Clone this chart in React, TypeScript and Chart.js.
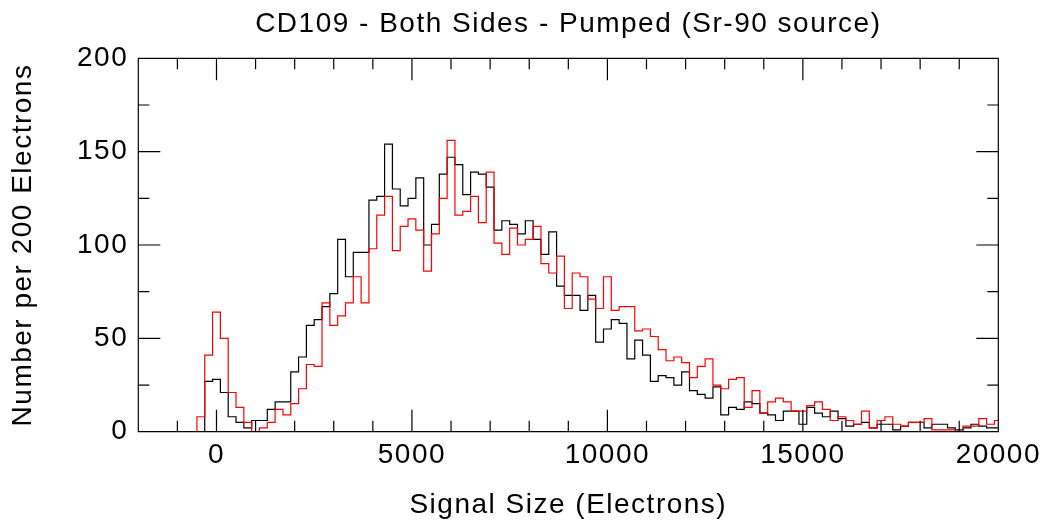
import React, { useEffect, useRef } from 'react';
import { Chart, registerables } from 'chart.js';

Chart.register(...registerables);

// Histogram bins: 200-electron bins, centres from -1200 to 20000
const binFirstCentre = -1200;
const binWidth = 200;

// Counts per bin (black series)
const blackCounts = [
  0, 0, 0, 0, 0, 27, 28, 21, 8, 5, 2, 6, 6, 12, 16, 16,
  32, 40, 57, 60, 67, 74, 103, 83, 96, 96, 124, 126, 154, 130, 121, 125,
  136, 100, 111, 138, 147, 143, 127, 139, 138, 131, 108, 113, 111, 106, 113, 103,
  95, 107, 78, 73, 73, 65, 73, 48, 55, 60, 58, 39, 49, 41, 27, 30,
  29, 25, 32, 22, 20, 18, 24, 9, 13, 12, 16, 15, 10, 9, 6, 11,
  11, 4, 13, 10, 8, 11, 7, 3, 4, 5, 2, 4, 4, 1, 3, 5,
  5, 2, 4, 4, 2, 1, 2, 4, 3, 2, 2,
];

// Counts per bin (red series)
const redCounts = [
  0, 0, 0, 0, 8, 41, 64, 50, 21, 13, 5, 0, 2, 5, 12, 9,
  15, 23, 36, 35, 69, 57, 62, 69, 83, 69, 98, 116, 126, 97, 110, 114,
  108, 86, 106, 125, 156, 116, 118, 126, 112, 139, 101, 95, 109, 100, 103, 110,
  90, 85, 94, 66, 85, 83, 71, 66, 83, 65, 67, 67, 54, 55, 51, 44,
  38, 40, 37, 29, 35, 39, 25, 23, 28, 29, 13, 22, 10, 16, 18, 16,
  11, 11, 14, 16, 12, 6, 8, 6, 4, 11, 2, 6, 8, 4, 3, 5,
  5, 7, 1, 1, 1, 0, 3, 3, 7, 4, 6,
];

const xTickValues = [0, 5000, 10000, 15000, 20000];
const yTickValues = [0, 50, 100, 150, 200];
const xMinorStep = 1000;
const xMajorStep = 5000;
const yMinorStep = 25;
const yMajorStep = 50;
const xMin = -2000;
const xMax = 20000;
const yMin = 0;
const yMax = 200;

const titleText = 'CD109 - Both Sides - Pumped (Sr-90 source)';
const xTitle = 'Signal Size (Electrons)';
const yTitle = 'Number per 200 Electrons';

const FONT_FAMILY = "'Liberation Sans', Arial, Helvetica, sans-serif";
const FONT_SIZE = 28;
const LETTER_SPACING = '1.5px';

function histogramPoints(counts: number[]) {
  const pts: { x: number; y: number }[] = [];
  counts.forEach((c, i) => {
    const centre = binFirstCentre + i * binWidth;
    pts.push({ x: centre - binWidth / 2, y: c });
    pts.push({ x: centre + binWidth / 2, y: c });
  });
  return pts;
}

const spacingPlugin = {
  id: 'letterSpacing',
  beforeUpdate(chart: any) {
    try { chart.ctx.letterSpacing = LETTER_SPACING; } catch (e) {}
  },
  beforeDraw(chart: any) {
    try { chart.ctx.letterSpacing = LETTER_SPACING; } catch (e) {}
  },
};

const framePlugin = {
  id: 'frameTicks',
  afterDraw(chart: any) {
    const { ctx, chartArea } = chart;
    const { left, right, top, bottom } = chartArea;
    const xs = chart.scales.x;
    const ys = chart.scales.y;
    ctx.save();
    ctx.strokeStyle = '#000';
    ctx.lineWidth = 1.2;
    ctx.beginPath();
    ctx.rect(left, top, right - left, bottom - top);
    const majorLen = 22;
    const minorLen = 11;
    for (let v = xMin; v <= xMax; v += xMinorStep) {
      const px = xs.getPixelForValue(v);
      const len = v % xMajorStep === 0 ? majorLen : minorLen;
      ctx.moveTo(px, bottom);
      ctx.lineTo(px, bottom - len);
      ctx.moveTo(px, top);
      ctx.lineTo(px, top + len);
    }
    for (let v = yMin; v <= yMax; v += yMinorStep) {
      const py = ys.getPixelForValue(v);
      const len = v % yMajorStep === 0 ? majorLen : minorLen;
      ctx.moveTo(left, py);
      ctx.lineTo(left + len, py);
      ctx.moveTo(right, py);
      ctx.lineTo(right - len, py);
    }
    ctx.stroke();
    ctx.restore();
  },
};

export default function App() {
  const canvasRef = useRef<HTMLCanvasElement | null>(null);

  useEffect(() => {
    const canvas = canvasRef.current;
    if (!canvas) return;
    const font = { family: FONT_FAMILY, size: FONT_SIZE, weight: 'normal' as const };
    const chart = new Chart(canvas, {
      type: 'line',
      data: {
        datasets: [
          {
            label: 'red',
            data: histogramPoints(redCounts),
            borderColor: '#ff0000',
            borderWidth: 1.2,
            pointRadius: 0,
            fill: false,
            tension: 0,
          },
          {
            label: 'black',
            data: histogramPoints(blackCounts),
            borderColor: '#000000',
            borderWidth: 1.2,
            pointRadius: 0,
            fill: false,
            tension: 0,
          },
        ],
      },
      options: {
        responsive: false,
        animation: false,
        devicePixelRatio: 1,
        events: [],
        parsing: false,
        layout: { padding: { left: 0, right: 48.7, top: 0, bottom: 0 } },
        plugins: {
          legend: { display: false },
          tooltip: { enabled: false },
          title: {
            display: true,
            text: titleText,
            fullSize: false,
            color: '#000',
            font,
            padding: { top: 7.4, bottom: 17.3 },
          },
        },
        scales: {
          x: {
            type: 'linear',
            min: xMin,
            max: xMax,
            grid: { display: false, drawTicks: false },
            border: { display: false },
            afterBuildTicks: (s: any) => {
              s.ticks = xTickValues.map((v) => ({ value: v }));
            },
            afterFit: (s: any) => {
              s.height = 90.3;
            },
            ticks: {
              color: '#000',
              font,
              padding: 7.0,
              maxRotation: 0,
              autoSkip: false,
              callback: (v: any) => String(v),
            },
            title: {
              display: true,
              text: xTitle,
              color: '#000',
              font,
              padding: { top: 0, bottom: 0 },
            },
          },
          y: {
            type: 'linear',
            min: yMin,
            max: yMax,
            grid: { display: false, drawTicks: false },
            border: { display: false },
            afterBuildTicks: (s: any) => {
              s.ticks = yTickValues.map((v) => ({ value: v }));
            },
            afterFit: (s: any) => {
              s.width = 138.3;
            },
            ticks: {
              color: '#000',
              font,
              padding: 10.1,
              autoSkip: false,
              callback: (v: any) => String(v),
            },
            title: {
              display: true,
              text: yTitle,
              color: '#000',
              font,
              padding: { top: 6.5, bottom: 0 },
            },
          },
        },
      },
      plugins: [spacingPlugin, framePlugin],
    });
    return () => chart.destroy();
  }, []);

  return (
    <div style={{ position: 'absolute', left: 0, top: 0, width: 1048, height: 522, background: '#fff' }}>
      <canvas ref={canvasRef} width={1048} height={522} style={{ display: 'block' }} />
    </div>
  );
}
